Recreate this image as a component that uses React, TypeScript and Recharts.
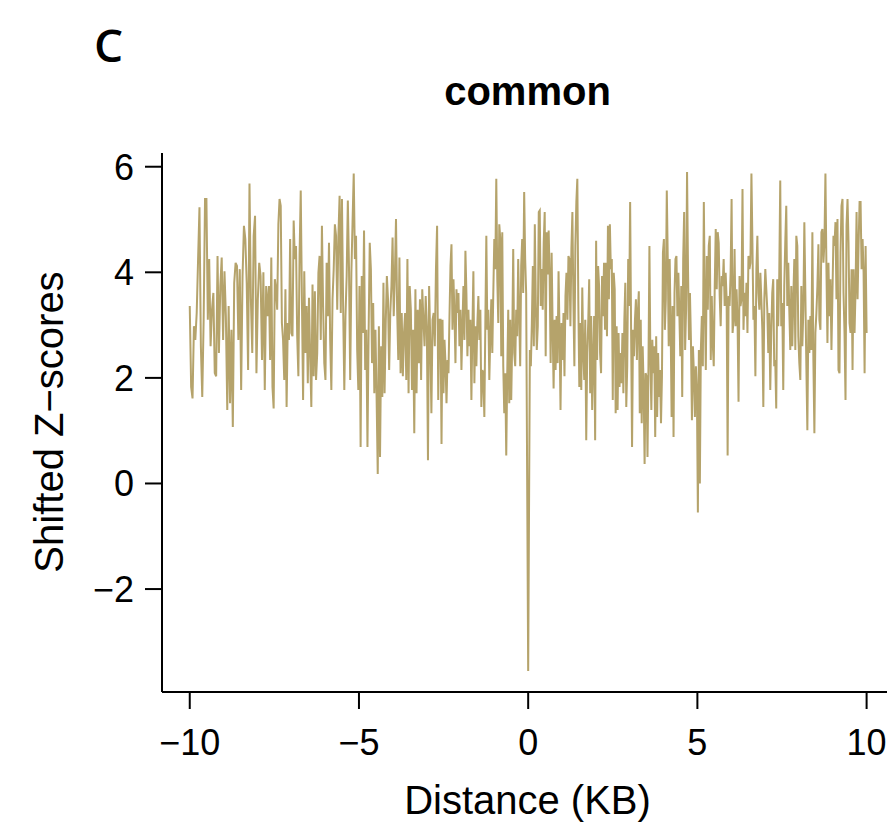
import React from 'react';
import { LineChart, Line, XAxis, YAxis } from 'recharts';

// Segment boundaries (KB) and shifted Z-score values
const segStartKB = [-10, -7.66, -5.12, -2.59, 0.05, 2.3, 4.78, 7.3];
const segEndKB = [-7.66, -5.12, -2.59, -0.03, 2.3, 4.78, 7.3, 10];
const spikeKB = 0;
const spikeZ = -3.55;

const zSeg1 = [3.36,1.83,1.61,2.98,2.72,3.23,4.25,5.23,2.6,1.64,3.10,5.39,5.39,3.10,4.25,2.6,3.29,3.61,2.09,2.03,4.31,2.47,3.74,4.28,2.72,4.02,3.17,1.39,3.36,1.52,2.91,1.07,3.8,4.18,4.12,2.72,4.06,1.77,3.93,4.88,4.63,3.8,2.15,5.68,3.49,2.47,4.69,5.07,2.09,3.49,4.18,3.93,2.34,4.0,1.77,3.74,3.17];
const zSeg2 = [3.74,2.34,4.28,1.83,1.42,3.87,3.68,3.29,4.91,5.39,5.26,3.04,2.72,1.96,3.68,1.45,3.04,2.72,4.63,2.85,2.79,4.98,4.25,4.5,2.79,2.03,4.31,5.55,3.49,1.58,4.02,2.47,3.36,1.9,3.52,2.41,1.45,3.77,2.03,3.64,1.96,2.47,3.99,4.31,2.72,4.88,3.36,2.28,1.96,4.18,3.17,4.56,2.72,1.77,3.49,4.06,4.91,4.69,3.29,4.69,5.45,3.23,5.39,3.36,1.77,3.17,3.93,5.36,4.06,1.96,3.99,4.95,5.87];
const zSeg3 = [4.25,4.69,2.53,1.77,3.74,0.69,3.93,2.85,4.79,2.15,2.91,0.69,2.85,4.56,4.06,2.28,3.42,1.71,2.91,1.64,0.18,2.98,0.5,2.6,1.64,3.8,1.71,3.04,3.93,3.49,2.15,3.23,3.74,4.66,3.17,3.93,5.01,3.29,2.34,4.28,2.09,3.23,2.03,2.85,3.23,1.96,4.25,1.71,3.74,3.29,1.77,2.91,0.95,3.68,1.71,3.29,2.28,3.49,1.96,3.68,3.1,2.6,3.55,2.98,0.44,3.74,2.72,1.33,3.1,3.23,2.6,4.06,4.88,1.58,3.1];
const zSeg4 = [3.1,0.75,3.1,1.71,2.72,2.28,1.52,2.34,2.09,3.17,4.12,4.53,2.91,3.87,3.23,2.28,3.68,3.23,3.61,2.6,3.29,2.15,2.98,3.74,2.72,4.41,3.61,2.41,3.29,2.6,3.1,1.58,2.91,4.02,1.9,2.98,2.22,3.04,3.55,2.72,3.29,1.45,2.15,2.09,1.26,3.04,4.69,2.91,3.29,1.96,2.79,3.49,2.47,3.61,4.63,4.06,5.77,3.87,3.04,4.91,4.63,2.41,4.76,2.22,1.33,2.09,0.53,2.09,3.29,1.52,3.1,1.58,2.72,4.44,2.47,2.22,3.29,2.79,4.25,3.23,2.22,4.12,4.63,3.61,5.52,4.25,3.61];
const zSeg5 = [2.53,2.22,3.04,4.12,2.6,4.91,3.42,2.53,2.98,5.14,5.17,3.36,4.06,3.29,4.56,5.14,2.41,4.76,3.96,4.79,3.93,2.28,4.37,2.98,1.8,3.1,2.15,3.17,2.28,4.02,2.85,1.39,3.04,2.34,3.23,2.03,3.55,3.99,3.1,4.31,4.25,2.98,4.44,5.14,3.49,2.22,4.5,5.33,5.77,3.42,1.83,3.04,1.77,3.71,2.47,1.96,3.1,0.82,2.47,3.04,3.87,1.71,3.17,1.39,2.34,3.17,0.82,4.6,2.34,4.12,3.74,2.47,2.09,3.93,3.17,4.18,2.91];
const zSeg6 = [4.18,2.79,4.88,3.49,4.91,4.06,4.25,1.58,3.99,3.68,1.33,2.98,1.39,2.85,1.83,2.47,1.9,2.85,1.71,3.1,3.8,1.45,2.22,4.25,3.36,5.33,2.91,0.69,2.91,2.41,3.1,3.49,2.34,3.23,3.64,1.33,3.1,1.14,2.6,1.83,0.37,2.09,2.03,0.5,2.22,4.5,2.34,1.39,2.72,2.09,2.6,0.88,2.79,1.26,2.47,1.64,2.15,1.14,2.03,4.37,4.63,2.91,3.49,5.55,4.25,2.6,4.25,2.98,1.26,3.36,0.88,3.61,4.25,4.31,3.17,3.99,3.23,2.41,3.74,1.64,4.25,5.14,2.53,3.29,5.9,4.06,2.72];
const zSeg7 = [3.61,2.72,1.2,2.6,2.09,1.26,2.22,1.77,-0.55,2.53,0.0,2.53,3.17,2.22,5.33,3.42,2.15,4.31,3.29,4.5,4.69,2.34,3.55,2.66,2.22,3.74,4.82,3.68,4.76,4.56,3.55,2.98,3.93,3.74,4.25,3.36,3.99,3.49,0.53,3.55,3.36,3.99,5.39,2.85,3.1,4.44,2.98,3.68,3.1,1.55,3.93,3.36,3.49,5.58,2.91,3.61,3.17,3.8,2.85,4.31,4.06,4.18,5.87,4.56,3.1,3.36,2.03,4.06,4.69,3.61,3.29,3.99,3.49,2.91,1.45,3.49,4.06,3.68,3.29,2.47,3.23,1.77,2.85,3.61,3.87,2.22];
const zSeg8 = [2.34,1.42,3.87,2.98,3.93,5.74,2.98,3.42,1.77,3.74,4.56,5.26,3.36,4.18,3.29,2.53,3.74,2.6,3.49,4.25,2.53,4.69,4.5,2.79,2.28,1.96,3.74,2.6,3.29,4.95,3.61,2.22,1.01,3.1,2.47,3.17,2.53,4.76,2.34,0.95,2.85,3.23,3.74,4.53,3.1,2.91,4.76,4.82,4.18,4.56,5.87,4.06,2.66,4.18,3.17,3.87,2.53,3.61,4.69,4.5,4.95,3.49,5.01,2.15,2.09,4.37,5.26,5.39,3.61,2.85,1.58,4.88,5.39,4.56,3.04,2.85,4.06,2.15,4.06,2.85,3.68,5.14,3.49,4.5,5.33,5.33,4.06,4.63,3.99,2.09,4.5,2.85];

const segments = [zSeg1, zSeg2, zSeg3, zSeg4, zSeg5, zSeg6, zSeg7, zSeg8];

const xTicks = [-10, -5, 0, 5, 10];
const yTicks = [-2, 0, 2, 4, 6];

const title = 'common';
const panelLetter = 'C';
const xTitle = 'Distance (KB)';
const yTitle = 'Shifted Z\u2212scores';

type Pt = { kb: number; z: number };
const data: Pt[] = [];
segments.forEach((vals, s) => {
  const start = segStartKB[s];
  const end = segEndKB[s];
  const last = s === segments.length - 1;
  const denom = last ? vals.length - 1 : vals.length;
  vals.forEach((v, j) => {
    data.push({ kb: start + ((end - start) * j) / denom, z: v });
  });
  if (s === 3) data.push({ kb: spikeKB, z: spikeZ });
});

const fmt = (v: number) => (v < 0 ? '\u2212' + Math.abs(v) : String(v));

const W = 887;
const H = 817;
const FONT = 'Liberation Sans, Arial, Helvetica, sans-serif';

export default function App() {
  return (
    <div style={{ position: 'relative', width: W, height: H }}>
      <LineChart width={W} height={H} data={data} margin={{ top: 145, right: 2, bottom: 73, left: 0 }}>
        <XAxis
          type="number"
          dataKey="kb"
          domain={[-10.82, 10.78]}
          ticks={xTicks}
          allowDataOverflow
          interval={0}
          height={60}
          tickSize={17}
          tickMargin={20}
          tickFormatter={fmt}
          tick={{ fontSize: 36, fill: '#000', fontFamily: FONT }}
          axisLine={{ stroke: '#000', strokeWidth: 2 }}
          tickLine={{ stroke: '#000', strokeWidth: 2 }}
        />
        <YAxis
          type="number"
          domain={[-3.95, 6.26]}
          ticks={yTicks}
          allowDataOverflow
          interval={0}
          width={154}
          tickSize={17}
          tickMargin={11}
          tickFormatter={fmt}
          tick={{ fontSize: 36, fill: '#000', fontFamily: FONT }}
          axisLine={{ stroke: '#000', strokeWidth: 2 }}
          tickLine={{ stroke: '#000', strokeWidth: 2 }}
        />
        <Line
          type="linear"
          dataKey="z"
          stroke="#b5a36b"
          strokeWidth={2}
          dot={false}
          activeDot={false}
          isAnimationActive={false}
        />
      </LineChart>
      <svg
        width={W}
        height={H}
        style={{ position: 'absolute', left: 0, top: 0, pointerEvents: 'none' }}
      >
        <text x={86} y={54} fontFamily="Open Sans, DejaVu Sans, sans-serif" fontWeight={600} fontSize={46} fill="#000">
          {panelLetter}
        </text>
        <text x={519.5} y={97} textAnchor="middle" fontFamily={FONT} fontWeight="bold" fontSize={40} fill="#000">
          {title}
        </text>
        <text x={519.5} y={806} textAnchor="middle" fontFamily={FONT} fontSize={40} fill="#000">
          {xTitle}
        </text>
        <text
          transform="translate(55,414) rotate(-90)"
          textAnchor="middle"
          fontFamily={FONT}
          fontSize={40}
          fill="#000"
        >
          {yTitle}
        </text>
      </svg>
    </div>
  );
}
